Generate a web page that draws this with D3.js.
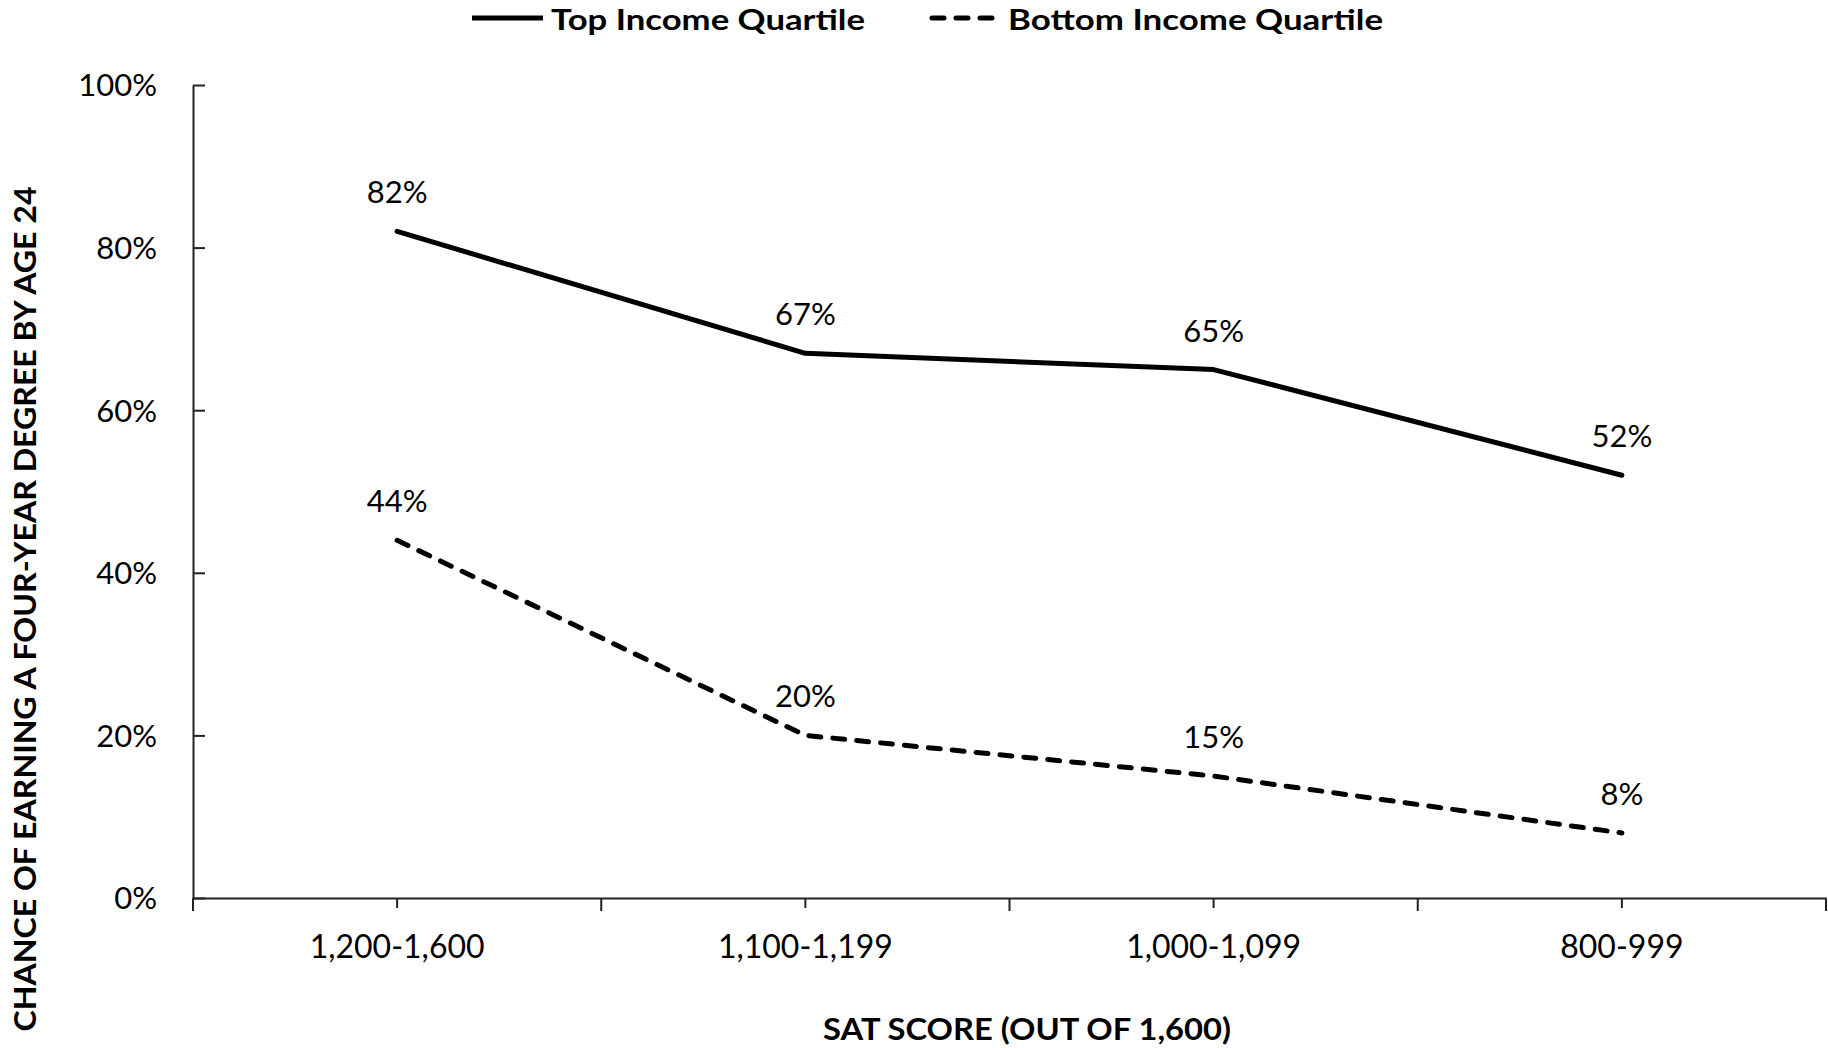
<!DOCTYPE html>
<html>
<head>
<meta charset="utf-8">
<script src="https://cdn.jsdelivr.net/npm/d3@7"></script>
<style>
  html, body { margin: 0; padding: 0; background: #fff; }
  svg { display: block; }
  text { font-family: Lato, "Open Sans", sans-serif; fill: #000; }
</style>
</head>
<body>
<svg id="chart" width="1828" height="1048"></svg>
<script>
const categories = ["1,200-1,600", "1,100-1,199", "1,000-1,099", "800-999"];
const topQuartile = [82, 67, 65, 52];
const bottomQuartile = [44, 20, 15, 8];
const yTicks = [0, 20, 40, 60, 80, 100];
const seriesNames = ["Top Income Quartile", "Bottom Income Quartile"];
const xTitle = "SAT SCORE (OUT OF 1,600)";
const yTitle = "CHANCE OF EARNING A FOUR-YEAR DEGREE BY AGE 24";

(function () {
const svg = d3.select("#chart");
const mLeft = 193, mRight = 1826, mTop = 85, mBottom = 898;

const x = d3.scaleBand().domain(categories).range([mLeft, mRight]).padding(0);
const y = d3.scaleLinear().domain([0, 100]).range([mBottom, mTop]);
const cx = d => x(d) + x.bandwidth() / 2;

// Y axis
const yAxis = svg.append("g")
  .attr("transform", `translate(${mLeft},0)`)
  .call(d3.axisLeft(y).tickValues(yTicks).tickFormat(d => d + "%").tickSize(-12).tickPadding(36).tickSizeOuter(0));
yAxis.select(".domain").attr("stroke", "#222").attr("stroke-width", 2);
yAxis.selectAll(".tick line").attr("stroke", "#222").attr("stroke-width", 2);
yAxis.selectAll(".tick text").attr("font-size", 31).attr("font-family", "Lato").attr("fill", "#000").attr("dy", "0.35em");

// X axis
const xAxis = svg.append("g")
  .attr("transform", `translate(0,${mBottom})`)
  .call(d3.axisBottom(x).tickSize(10).tickSizeOuter(0));
xAxis.select(".domain").attr("stroke", "#222").attr("stroke-width", 2);
xAxis.selectAll(".tick line").attr("stroke", "#222").attr("stroke-width", 2);
xAxis.selectAll(".tick text").attr("font-size", 32).attr("font-family", "Lato").attr("fill", "#000")
  .attr("y", 60).attr("dy", 0);
// boundary ticks
const bounds = categories.map(c => x(c)).concat([x.range()[1]]);
xAxis.selectAll(".btick").data(bounds).enter().append("line")
  .attr("x1", d => d).attr("x2", d => d).attr("y1", 0).attr("y2", 13)
  .attr("stroke", "#222").attr("stroke-width", 2);

// Lines
const line = d3.line().x((d, i) => cx(categories[i])).y(d => y(d));
svg.append("path").datum(topQuartile).attr("d", line)
  .attr("fill", "none").attr("stroke", "#000").attr("stroke-width", 5).attr("stroke-linejoin", "round").attr("stroke-linecap", "round");
svg.append("path").datum(bottomQuartile).attr("d", line)
  .attr("fill", "none").attr("stroke", "#000").attr("stroke-width", 5).attr("stroke-dasharray", "12,12").attr("stroke-linecap", "round");

// Data labels
[topQuartile, bottomQuartile].forEach(series => {
  svg.append("g").selectAll("text").data(series).enter().append("text")
    .attr("x", (d, i) => cx(categories[i]))
    .attr("y", d => y(d) - 28)
    .attr("text-anchor", "middle")
    .attr("font-size", 31)
    .text(d => d + "%");
});

// Legend
const legend = svg.append("g");
legend.append("line").attr("x1", 472).attr("x2", 543).attr("y1", 18).attr("y2", 18)
  .attr("stroke", "#000").attr("stroke-width", 5);
legend.append("text").attr("x", 551).attr("y", 30).attr("font-size", 29).attr("font-weight", "bold")
  .attr("textLength", 314).attr("lengthAdjust", "spacingAndGlyphs").text(seriesNames[0]);
legend.append("line").attr("x1", 932).attr("x2", 1000).attr("y1", 18).attr("y2", 18)
  .attr("stroke", "#000").attr("stroke-width", 5).attr("stroke-dasharray", "12,12").attr("stroke-linecap", "round");
legend.append("text").attr("x", 1008).attr("y", 30).attr("font-size", 29).attr("font-weight", "bold")
  .attr("textLength", 375).attr("lengthAdjust", "spacingAndGlyphs").text(seriesNames[1]);

// Axis titles
svg.append("text").attr("x", 1027).attr("y", 1040).attr("text-anchor", "middle")
  .attr("font-size", 30).attr("font-weight", "bold")
  .attr("textLength", 408).attr("lengthAdjust", "spacingAndGlyphs").text(xTitle);
svg.append("text").attr("transform", "translate(36,609) rotate(-90)").attr("text-anchor", "middle")
  .attr("font-size", 30).attr("font-weight", "bold")
  .attr("textLength", 845).attr("lengthAdjust", "spacingAndGlyphs").text(yTitle);
})();
</script>
</body>
</html>
